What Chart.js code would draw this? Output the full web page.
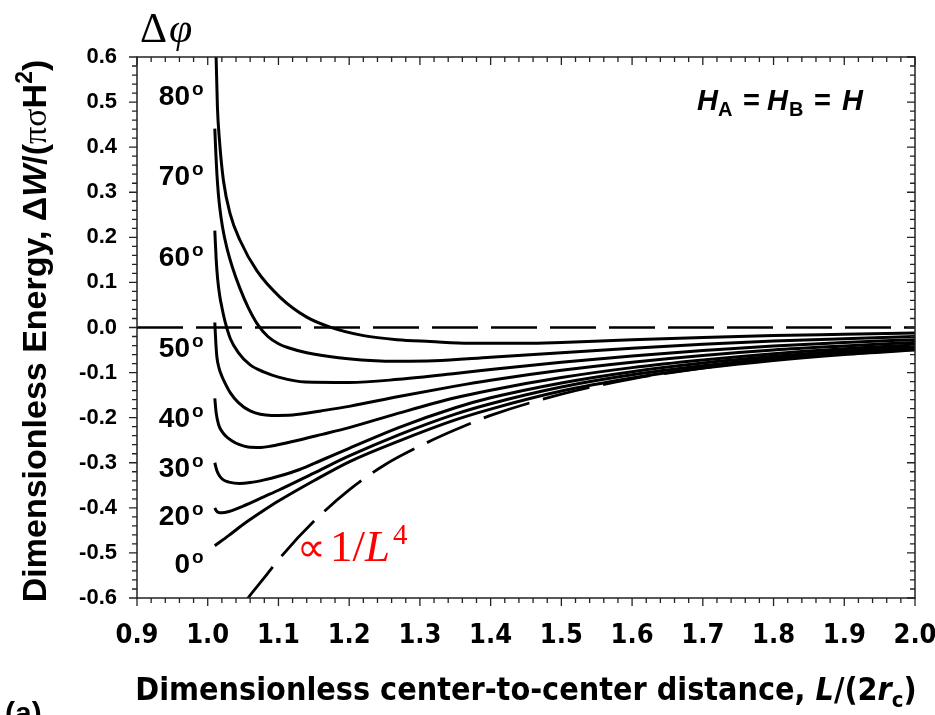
<!DOCTYPE html>
<html><head><meta charset="utf-8">
<script src="https://cdn.jsdelivr.net/npm/chart.js@4"></script>
<style>html,body{margin:0;padding:0;background:#fff}canvas{display:block}</style>
</head><body>
<canvas id="c" width="935" height="715"></canvas>
<script>
// ---- tick labels ----
const xTicks = [0.9,1.0,1.1,1.2,1.3,1.4,1.5,1.6,1.7,1.8,1.9,2.0];
const yTicks = [-0.6,-0.5,-0.4,-0.3,-0.2,-0.1,0.0,0.1,0.2,0.3,0.4,0.5,0.6];

// ---- curves: contact-line phase difference (deg) ----
const L80 = [1.0108,1.0118,1.0137,1.0166,1.0222,1.0317,1.0458,1.0694,1.1024,1.140,1.173,1.2204,1.2676,1.3148,1.37,1.45,1.5,1.6,1.7,1.8,1.9,2.0];
const E80 = [0.68,0.602,0.489,0.415,0.326,0.252,0.193,0.126,0.067,0.023,0.001,-0.018,-0.027,-0.031,-0.035,-0.035,-0.033,-0.027,-0.022,-0.018,-0.015,-0.012];
const L70 = [1.010,1.0115,1.013,1.015,1.017,1.021,1.027,1.035,1.045,1.057,1.07,1.085,1.1,1.114,1.14,1.185,1.23,1.27,1.32,1.4,1.5,1.6,1.7,1.8,1.9,2.0];
const E70 = [0.441,0.385,0.340,0.297,0.266,0.222,0.177,0.133,0.089,0.045,0.008,-0.020,-0.036,-0.045,-0.056,-0.067,-0.073,-0.075,-0.074,-0.066,-0.056,-0.046,-0.037,-0.030,-0.025,-0.020];
const L60 = [1.010,1.012,1.014,1.017,1.020,1.025,1.032,1.043,1.06,1.08,1.10,1.138,1.2,1.27,1.35,1.4,1.5,1.6,1.7,1.8,1.9,2.0];
const E60 = [0.215,0.150,0.108,0.070,0.045,0.010,-0.025,-0.055,-0.083,-0.099,-0.110,-0.121,-0.122,-0.115,-0.102,-0.093,-0.077,-0.063,-0.051,-0.041,-0.033,-0.027];
const L50 = [1.010,1.0115,1.013,1.016,1.020,1.025,1.032,1.043,1.06,1.09,1.12,1.16,1.2,1.27,1.35,1.4,1.5,1.6,1.7,1.8,1.9,2.0];
const E50 = [0.011,-0.035,-0.066,-0.090,-0.108,-0.125,-0.145,-0.166,-0.185,-0.195,-0.194,-0.185,-0.175,-0.153,-0.130,-0.117,-0.095,-0.077,-0.062,-0.050,-0.041,-0.033];
const L40 = [1.010,1.012,1.0151,1.019,1.025,1.034,1.045,1.057,1.075,1.09,1.12,1.162,1.2,1.27,1.35,1.4,1.5,1.6,1.7,1.8,1.9,2.0];
const E40 = [-0.157,-0.190,-0.214,-0.228,-0.240,-0.251,-0.260,-0.265,-0.266,-0.263,-0.253,-0.237,-0.222,-0.190,-0.156,-0.139,-0.111,-0.089,-0.072,-0.058,-0.047,-0.039];
const L30 = [1.010,1.013,1.017,1.022,1.03,1.045,1.06,1.08,1.10,1.13,1.16,1.2,1.27,1.35,1.4,1.5,1.6,1.7,1.8,1.9,2.0];
const E30 = [-0.300,-0.318,-0.330,-0.338,-0.343,-0.346,-0.344,-0.338,-0.330,-0.315,-0.295,-0.268,-0.222,-0.178,-0.156,-0.123,-0.098,-0.079,-0.064,-0.052,-0.043];
const L20 = [1.010,1.012,1.015,1.02,1.03,1.05,1.08,1.1,1.15,1.2,1.27,1.35,1.4,1.5,1.6,1.7,1.8,1.9,2.0];
const E20 = [-0.400,-0.406,-0.410,-0.411,-0.408,-0.396,-0.375,-0.361,-0.323,-0.285,-0.238,-0.192,-0.169,-0.132,-0.105,-0.085,-0.069,-0.056,-0.047];
const L0 = [1.010,1.03,1.05,1.08,1.1,1.15,1.2,1.27,1.35,1.4,1.5,1.6,1.7,1.8,1.9,2.0];
const E0 = [-0.484,-0.461,-0.437,-0.405,-0.385,-0.340,-0.298,-0.252,-0.205,-0.181,-0.141,-0.112,-0.090,-0.073,-0.060,-0.050];
// ---- asymptote ∝ 1/L^4 (dashed) ----
const Lasy = [1.05,1.057,1.08,1.1,1.15,1.2,1.25,1.3,1.35,1.4,1.5,1.6,1.7,1.8,1.9,2.0];
const Easy = [-0.615,-0.600,-0.555,-0.515,-0.430,-0.360,-0.305,-0.263,-0.227,-0.195,-0.148,-0.114,-0.090,-0.071,-0.058,-0.047];
// ---- zero reference (dashed) ----
const Lzero = [0.9,2.0];
const Ezero = [0,0];

const pts = (xs, ys) => xs.map((x,i)=>({x:x, y:ys[i]}));
const solid = (xs, ys) => ({data: pts(xs,ys), borderColor:'#000', borderWidth:3, pointRadius:0, showLine:true, fill:false, cubicInterpolationMode:'monotone'});

const SANS = '"Liberation Sans", Arial, sans-serif';
const NARROW = '"Liberation Sans Narrow", "DejaVu Sans Condensed", "Liberation Sans", sans-serif';
const SERIF = '"Liberation Serif", "Times New Roman", serif';

function drawRich(ctx, x, y, segs, align){
  let w = 0;
  segs.forEach(s=>{ctx.font=s.f; w += ctx.measureText(s.t).width + (s.dx||0);});
  let cx = align==='center' ? x - w/2 : (align==='right' ? x - w : x);
  segs.forEach(s=>{ctx.font=s.f; ctx.fillText(s.t, cx, y + (s.dy||0)); cx += ctx.measureText(s.t).width + (s.dx||0);});
}

const decor = {
  id:'decor',
  afterDraw(chart){
    const ctx = chart.ctx, a = chart.chartArea, xs = chart.scales.x, ys = chart.scales.y;
    ctx.save();
    // frame
    ctx.strokeStyle = '#222'; ctx.lineWidth = 1.5;
    ctx.strokeRect(a.left, a.top, a.right-a.left, a.bottom-a.top);
    // ticks (left/bottom outward, right/top same direction)
    ctx.lineWidth = 1.3; ctx.beginPath();
    for (let i=0;i<=55;i++){
      const v = 0.9 + i*0.02; const px = xs.getPixelForValue(v);
      const len = (i%5===0)?8:5;
      ctx.moveTo(px, a.bottom); ctx.lineTo(px, a.bottom+len);
      ctx.moveTo(px, a.top); ctx.lineTo(px, a.top+len);
    }
    for (let i=0;i<=60;i++){
      const v = -0.6 + i*0.02; const py = ys.getPixelForValue(v);
      const len = (i%5===0)?8:5;
      ctx.moveTo(a.left, py); ctx.lineTo(a.left-len, py);
      ctx.moveTo(a.right, py); ctx.lineTo(a.right-len, py);
    }
    ctx.stroke();

    ctx.fillStyle = '#000'; ctx.textBaseline = 'alphabetic';
    // angle labels
    const ang = [['80',105],['70',185],['60',266],['50',357],['40',427],['30',477],['20',525],['0',573]];
    ang.forEach(([t,b])=>{
      ctx.font = 'bold 28px '+SANS; ctx.textAlign='right'; ctx.fillText(t, 190, b);
      ctx.font = 'bold 19px '+SANS; ctx.textAlign='left'; ctx.fillText('o', 192, b-10);
    });
    ctx.textAlign='left';
    // H_A = H_B = H
    const bi = 'italic bold 29px '+SANS, b28 = 'bold 29px '+SANS, sub = 'bold 20px '+SANS;
    ctx.font = bi; ctx.fillText('H', 697, 110); ctx.fillText('H', 767, 110); ctx.fillText('H', 842, 110);
    ctx.font = sub; ctx.fillText('A', 718, 116); ctx.fillText('B', 789, 116);
    ctx.font = b28; ctx.fillText('=', 743, 110); ctx.fillText('=', 814, 110);
    // Δφ
    drawRich(ctx, 140, 42, [{t:'Δ',f:'42px '+SERIF,dx:2},{t:'φ',f:'italic 42px '+SERIF}], 'left');
    // ∝ 1/L^4
    ctx.fillStyle = '#f00';
    drawRich(ctx, 297, 561, [{t:'∝',f:'40px '+SERIF,dx:4},{t:'1/',f:'45px '+SERIF},{t:'L',f:'italic 45px '+SERIF,dx:3},{t:'4',f:'29px '+SERIF,dy:-17}], 'left');
    ctx.fillStyle = '#000';
    // x title
    drawRich(ctx, 526, 700, [
      {t:'Dimensionless center-to-center distance, ',f:'bold 32px '+NARROW},
      {t:'L',f:'italic bold 32px '+NARROW},{t:'/(2',f:'bold 32px '+NARROW},
      {t:'r',f:'italic bold 32px '+NARROW},{t:'c',f:'bold 22px '+NARROW,dy:7},{t:')',f:'bold 32px '+NARROW}], 'center');
    // (a)
    ctx.font = 'bold 30px '+SANS; ctx.fillText('(a)', 5, 723);
    // y title
    ctx.save(); ctx.translate(46, 331); ctx.rotate(-Math.PI/2);
    drawRich(ctx, 0, 0, [
      {t:'Dimensionless Energy, Δ',f:'bold 34px '+SANS},
      {t:'W',f:'italic bold 34px '+SANS},{t:'/(',f:'bold 34px '+SANS},
      {t:'πσ',f:'34px '+SERIF},{t:'H',f:'bold 34px '+SANS},
      {t:'2',f:'bold 23px '+SANS,dy:-14},{t:')',f:'bold 34px '+SANS}], 'center');
    ctx.restore();
    ctx.restore();
  }
};

new Chart(document.getElementById('c'), {
  type:'scatter',
  data:{datasets:[
    {data:pts(Lzero,Ezero), borderColor:'#000', borderWidth:2.6, borderDash:[46,13], pointRadius:0, showLine:true},
    {data:pts(Lasy,Easy), borderColor:'#000', borderWidth:2.8, borderDash:[48,14], pointRadius:0, showLine:true, cubicInterpolationMode:'monotone'},
    solid(L80,E80), solid(L70,E70), solid(L60,E60), solid(L50,E50),
    solid(L40,E40), solid(L30,E30), solid(L20,E20), solid(L0,E0)
  ]},
  options:{
    responsive:false, animation:false, devicePixelRatio:1,
    layout:{autoPadding:false, padding:{top:57,right:20,left:0,bottom:0}},
    plugins:{legend:{display:false}, tooltip:{enabled:false}},
    scales:{
      x:{type:'linear', min:0.9, max:2.0, offset:false,
        afterBuildTicks:s=>{s.ticks = xTicks.map(v=>({value:v}));},
        afterFit:s=>{s.height = 117; s.paddingLeft = 0; s.paddingRight = 0;},
        grid:{display:false, drawTicks:false}, border:{display:false},
        ticks:{padding:22, color:'#000', font:{family:NARROW, weight:'bold', size:27}, maxRotation:0, autoSkip:false,
          callback:v=>Number(v).toFixed(1)}},
      y:{type:'linear', min:-0.6, max:0.6,
        afterBuildTicks:s=>{s.ticks = yTicks.map(v=>({value:v}));},
        afterFit:s=>{s.width = 137; s.paddingTop = 0; s.paddingBottom = 0;},
        grid:{display:false, drawTicks:false}, border:{display:false},
        ticks:{padding:20, color:'#000', font:{family:SANS, weight:'bold', size:22}, autoSkip:false,
          callback:v=>Number(v).toFixed(1)}}
    }
  },
  plugins:[decor]
});
</script>
</body></html>
